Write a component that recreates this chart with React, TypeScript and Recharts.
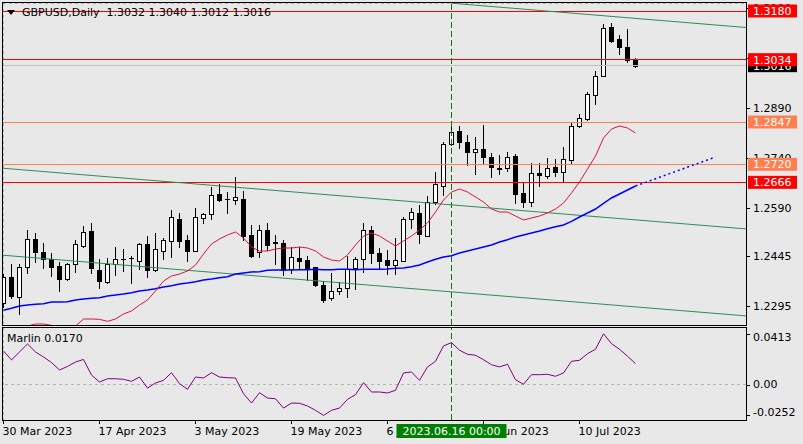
import React from 'react'
import { ComposedChart, Bar, Line, XAxis, YAxis, CartesianGrid, ReferenceLine } from 'recharts'

const FONT = '"DejaVu Sans", Verdana, sans-serif'
const BG = '#e8e8e8'
const GRID = '#b4b4b4'

// GBPUSD daily bars, bar 0 = 30 Mar 2023, bar 79 = 19 Jul 2023
const opens = [
  1.2305, 1.2381, 1.2323, 1.2411, 1.2495, 1.2457, 1.2435, 1.2415, 1.2377, 1.2420,
  1.2476, 1.2520, 1.2403, 1.2368, 1.2420, 1.2436, 1.2438, 1.2431, 1.2481, 1.2403,
  1.2461, 1.2491, 1.2556, 1.2493, 1.2461, 1.2558, 1.2571, 1.2631, 1.2615, 1.2613,
  1.2615, 1.2508, 1.2456, 1.2523, 1.2485, 1.2485, 1.2405, 1.2439, 1.2433, 1.2411,
  1.2358, 1.2318, 1.2341, 1.2348, 1.2408, 1.2435, 1.2523, 1.2453, 1.2433, 1.2418,
  1.2431, 1.2555, 1.2573, 1.2506, 1.2608, 1.2655, 1.2780, 1.2820, 1.2786, 1.2758,
  1.2765, 1.2741, 1.2708, 1.2708, 1.2745, 1.2633, 1.2608, 1.2695, 1.2686, 1.2711,
  1.2698, 1.2733, 1.2835, 1.2855, 1.2928, 1.2985, 1.3132, 1.3096, 1.3071, 1.3032,
]
const highs = [
  1.2391, 1.2420, 1.2420, 1.2523, 1.2515, 1.2485, 1.2453, 1.2428, 1.2423, 1.2493,
  1.2535, 1.2545, 1.2435, 1.2438, 1.2471, 1.2465, 1.2445, 1.2485, 1.2506, 1.2513,
  1.2498, 1.2583, 1.2575, 1.2508, 1.2588, 1.2575, 1.2651, 1.2661, 1.2638, 1.2681,
  1.2641, 1.2538, 1.2538, 1.2545, 1.2508, 1.2493, 1.2471, 1.2471, 1.2445, 1.2413,
  1.2371, 1.2393, 1.2368, 1.2445, 1.2443, 1.2543, 1.2535, 1.2468, 1.2463, 1.2500,
  1.2561, 1.2588, 1.2598, 1.2625, 1.2698, 1.2786, 1.2848, 1.2835, 1.2808, 1.2801,
  1.2838, 1.2753, 1.2748, 1.2758, 1.2751, 1.2663, 1.2725, 1.2725, 1.2738, 1.2735,
  1.2773, 1.2848, 1.2870, 1.2938, 1.3000, 1.3140, 1.3143, 1.3108, 1.3126, 1.3040,
]
const lows = [
  1.2292, 1.2320, 1.2271, 1.2393, 1.2428, 1.2410, 1.2385, 1.2341, 1.2373, 1.2396,
  1.2473, 1.2395, 1.2350, 1.2365, 1.2388, 1.2401, 1.2365, 1.2406, 1.2383, 1.2401,
  1.2435, 1.2443, 1.2473, 1.2431, 1.2461, 1.2545, 1.2556, 1.2611, 1.2575, 1.2601,
  1.2493, 1.2441, 1.2441, 1.2463, 1.2420, 1.2388, 1.2393, 1.2405, 1.2373, 1.2355,
  1.2306, 1.2313, 1.2331, 1.2323, 1.2345, 1.2398, 1.2423, 1.2405, 1.2391, 1.2391,
  1.2431, 1.2528, 1.2485, 1.2505, 1.2600, 1.2628, 1.2778, 1.2768, 1.2718, 1.2690,
  1.2725, 1.2683, 1.2691, 1.2701, 1.2603, 1.2591, 1.2595, 1.2656, 1.2680, 1.2686,
  1.2671, 1.2725, 1.2833, 1.2853, 1.2901, 1.2985, 1.3086, 1.3050, 1.3028, 1.3012,
]
const closes = [
  1.2381, 1.2325, 1.2411, 1.2495, 1.2456, 1.2435, 1.2413, 1.2377, 1.2420, 1.2480,
  1.2516, 1.2410, 1.2371, 1.2420, 1.2435, 1.2437, 1.2440, 1.2481, 1.2403, 1.2465,
  1.2493, 1.2561, 1.2491, 1.2461, 1.2561, 1.2571, 1.2628, 1.2613, 1.2616, 1.2621,
  1.2506, 1.2445, 1.2523, 1.2478, 1.2486, 1.2403, 1.2441, 1.2431, 1.2405, 1.2358,
  1.2313, 1.2341, 1.2348, 1.2405, 1.2435, 1.2523, 1.2453, 1.2431, 1.2418, 1.2433,
  1.2556, 1.2576, 1.2511, 1.2608, 1.2661, 1.2781, 1.2818, 1.2788, 1.2758, 1.2765,
  1.2743, 1.2711, 1.2707, 1.2743, 1.2630, 1.2608, 1.2693, 1.2687, 1.2708, 1.2698,
  1.2735, 1.2835, 1.2858, 1.2930, 1.2985, 1.3130, 1.3090, 1.3071, 1.3033, 1.3016,
]

// red (fast) and blue (slow) moving averages
const maFast = [
  1.2223, 1.2229, 1.2232, 1.2235, 1.2241, 1.2241, 1.2237, 1.2232, 1.2229, 1.2235,
  1.2256, 1.2256, 1.2255, 1.2249, 1.2256, 1.2271, 1.2280, 1.2298, 1.2313, 1.2340,
  1.2370, 1.2385, 1.2391, 1.2400, 1.2418, 1.2451, 1.2481, 1.2496, 1.2508, 1.2517,
  1.2499, 1.2472, 1.2460, 1.2460, 1.2466, 1.2469, 1.2469, 1.2472, 1.2469, 1.2460,
  1.2442, 1.2433, 1.2430, 1.2448, 1.2478, 1.2505, 1.2514, 1.2505, 1.2490, 1.2475,
  1.2490, 1.2505, 1.2523, 1.2544, 1.2577, 1.2613, 1.2637, 1.2646, 1.2637, 1.2622,
  1.2607, 1.2586, 1.2577, 1.2577, 1.2565, 1.2553, 1.2559, 1.2565, 1.2574, 1.2586,
  1.2604, 1.2634, 1.2667, 1.2706, 1.2745, 1.2799, 1.2826, 1.2835, 1.2829, 1.2814,
]
const maSlow = [
  1.2282, 1.2288, 1.2295, 1.2298, 1.2300, 1.2302, 1.2307, 1.2307, 1.2308, 1.2313,
  1.2316, 1.2318, 1.2320, 1.2325, 1.2328, 1.2331, 1.2335, 1.2340, 1.2343, 1.2347,
  1.2352, 1.2356, 1.2361, 1.2364, 1.2368, 1.2373, 1.2376, 1.2380, 1.2383, 1.2391,
  1.2394, 1.2397, 1.2398, 1.2402, 1.2403, 1.2403, 1.2403, 1.2404, 1.2404, 1.2405,
  1.2404, 1.2404, 1.2405, 1.2405, 1.2404, 1.2405, 1.2405, 1.2405, 1.2406, 1.2408,
  1.2409, 1.2413, 1.2418, 1.2427, 1.2435, 1.2442, 1.2446, 1.2454, 1.2460, 1.2466,
  1.2472, 1.2478, 1.2487, 1.2494, 1.2502, 1.2508, 1.2514, 1.2520, 1.2527, 1.2533,
  1.2538, 1.2549, 1.2562, 1.2574, 1.2586, 1.2603, 1.2619, 1.2631, 1.2643, 1.2655,
]
const slowProjection = [
  { bar: 79, v: 1.2655 },
  { bar: 89, v: 1.2742 },
]

const marlin = [
  0.0273, 0.0200, 0.0265, 0.0330, 0.0265, 0.0224, 0.0179, 0.0118, 0.0147, 0.0183,
  0.0204, 0.0077, 0.0020, 0.0047, 0.0047, 0.0042, 0.0026, 0.0061, -0.0029, 0.0012,
  0.0034, 0.0096, 0.0007, -0.0039, 0.0061, 0.0053, 0.0096, 0.0061, 0.0055, 0.0053,
  -0.0075, -0.0151, -0.0067, -0.0110, -0.0116, -0.0192, -0.0151, -0.0153, -0.0175, -0.0210,
  -0.0252, -0.0210, -0.0192, -0.0121, -0.0083, 0.0015, -0.0061, -0.0061, -0.0069, -0.0047,
  0.0094, 0.0102, 0.0034, 0.0143, 0.0189, 0.0314, 0.0341, 0.0279, 0.0246, 0.0238,
  0.0202, 0.0161, 0.0143, 0.0165, 0.0039, 0.0002, 0.0080, 0.0080, 0.0083, 0.0067,
  0.0094, 0.0189, 0.0197, 0.0251, 0.0287, 0.0413, 0.0333, 0.0287, 0.0230, 0.0170,
]

// channel lines, [bar, price] end points
const channelLines = [
  [[56, 1.32034], [92.8125, 1.31305]],
  [[-0.0625, 1.27083], [92.8125, 1.25263]],
  [[-0.0625, 1.24473], [92.8125, 1.22653]],
]

const redLevels = [1.3180, 1.3034, 1.2666]
const coralLevels = [1.2847, 1.2720]
const bid = 1.3016
const markedBar = 56

const priceTicks = [1.2295, 1.2445, 1.2590, 1.2740, 1.2890, 1.3040, 1.3190]
const marlinTicks = [0.0413, 0, -0.0252]
const gridBars = [0, 6, 12, 18, 24, 30, 36, 42, 48, 54, 60, 66, 72, 78, 84, 90]
const labelBars = [0, 12, 24, 36, 48, 60, 72]
const labelTexts = ['30 Mar 2023', '17 Apr 2023', '3 May 2023', '19 May 2023', '6 Jun 2023', '22 Jun 2023', '10 Jul 2023']

const bars = opens.map((o, i) => ({
  bar: i, open: o, high: highs[i], low: lows[i], close: closes[i], fast: maFast[i], slow: maSlow[i],
}))
const marlinRows = marlin.map((v, i) => ({ bar: i, v }))

const X_DOMAIN: [number, number] = [-0.0625, 92.8125]

function Candle(props: any) {
  const { x, y, width, height, payload } = props
  const { open, close, high, low } = payload
  const c = Math.floor(x + width / 2) + 0.5
  const toY = (v: number) => y + ((high - v) / (high - low)) * height
  const top = Math.round(toY(Math.max(open, close))) + 0.5
  const bot = Math.round(toY(Math.min(open, close))) + 0.5
  const up = close >= open
  return (
    <g shapeRendering="crispEdges">
      <line x1={c} x2={c} y1={Math.round(y)} y2={Math.round(y + height) + 1} stroke="#000" />
      {bot - top < 1 ? (
        <line x1={c - 2.5} x2={c + 2.5} y1={top} y2={top} stroke="#000" />
      ) : (
        <rect x={c - 2} y={top} width={4} height={bot - top} fill={up ? '#fff' : '#000'} stroke="#000" />
      )}
    </g>
  )
}

// coloured price box on the right scale
const priceTag = (fill: string, text: string) => (props: any) => {
  const { viewBox } = props
  const right = viewBox.x + viewBox.width
  const cy = viewBox.y
  return (
    <g>
      <rect x={right + 2} y={cy - 6.5} width={49} height={13} fill={fill} />
      <text x={right + 7} y={cy} dy="0.36em" fill="#fff" fontSize={11} fontFamily={FONT}>{text}</text>
    </g>
  )
}

// plain scale label (tick mark + text)
const scaleLabel = (text: string, shift = 0) => (props: any) => {
  const { viewBox } = props
  const right = viewBox.x + viewBox.width
  const cy = viewBox.y
  return (
    <g>
      <line x1={right + 1} x2={right + 4} y1={Math.round(cy) + 0.5} y2={Math.round(cy) + 0.5} stroke="#000" />
      <text x={right + 7} y={cy + shift} dy="0.36em" fontSize={11} fontFamily={FONT} fill="#000">{text}</text>
    </g>
  )
}

const dateLabel = (text: string) => (props: any) => {
  const { viewBox } = props
  const x = viewBox.x
  const bottom = viewBox.y + viewBox.height
  return (
    <g>
      <line x1={Math.floor(x) + 0.5} x2={Math.floor(x) + 0.5} y1={bottom + 1} y2={bottom + 4} stroke="#000" />
      <text x={x - 1} y={bottom + 6} dy="0.78em" fontSize={11} fontFamily={FONT} fill="#000">{text}</text>
    </g>
  )
}

function DateBox(props: any) {
  const { viewBox } = props
  const cx = viewBox.x
  const top = viewBox.y + viewBox.height + 4
  return (
    <g>
      <rect x={cx - 55} y={top} width={110} height={14} fill="#008000" />
      <text x={cx} y={top + 7} dy="0.36em" textAnchor="middle" fill="#fff" fontSize={11} fontFamily={FONT}>
        2023.06.16 00:00
      </text>
    </g>
  )
}

const marlinText = (v: number) => (v === 0 ? '0.00' : v.toFixed(4))

export default function App() {
  return (
    <div style={{ position: 'absolute', left: 0, top: 0, width: 803, height: 444, background: BG, overflow: 'hidden', fontFamily: FONT }}>
      <div style={{ position: 'absolute', left: 0, top: 0 }}>
        <ComposedChart width={803} height={327} data={bars} margin={{ top: 3, right: 0, left: 3, bottom: 2 }}>
          <CartesianGrid stroke={GRID} strokeDasharray="3 3" shapeRendering="crispEdges" />
          <XAxis type="number" dataKey="bar" domain={X_DOMAIN} ticks={gridBars} interval={0} allowDataOverflow
            height={0} tick={false} axisLine={false} tickLine={false} />
          <YAxis type="number" orientation="right" width={57} domain={[1.2238, 1.3204]} ticks={priceTicks} interval={0}
            allowDataOverflow axisLine={false} tickLine={false} tick={false} />
          {priceTicks.map((p) => (
            <ReferenceLine key={'t' + p} y={p} stroke="none" label={scaleLabel(p.toFixed(4))} />
          ))}
          <ReferenceLine y={bid} stroke="#c0c0c0" shapeRendering="crispEdges" label={priceTag('#000', bid.toFixed(4))} />
          {coralLevels.map((p) => (
            <ReferenceLine key={p} y={p} stroke="#ff7f50" shapeRendering="crispEdges" label={priceTag('#ff7f50', p.toFixed(4))} />
          ))}
          {redLevels.map((p) => (
            <ReferenceLine key={p} y={p} stroke="#ff0000" shapeRendering="crispEdges" label={priceTag('#ff0000', p.toFixed(4))} />
          ))}
          <Bar dataKey={(d: any) => [d.low, d.high]} barSize={5} isAnimationActive={false} shape={(p: any) => <Candle {...p} />} />
          {channelLines.map((seg, i) => (
            <ReferenceLine key={i} segment={[{ x: seg[0][0], y: seg[0][1] }, { x: seg[1][0], y: seg[1][1] }]}
              stroke="#2e8b57" ifOverflow="hidden" />
          ))}
          <ReferenceLine x={markedBar} stroke="#008000" strokeDasharray="6 3" shapeRendering="crispEdges" />
          <Line dataKey="slow" stroke="#0000ff" strokeWidth={1.5} dot={false} isAnimationActive={false} />
          <Line data={slowProjection} dataKey="v" stroke="#0000ff" strokeWidth={1.5} strokeDasharray="2 3" dot={false} isAnimationActive={false} />
          <Line dataKey="fast" stroke="#dc143c" strokeWidth={1} dot={false} isAnimationActive={false} />
        </ComposedChart>
      </div>

      <div style={{ position: 'absolute', left: 0, top: 327 }}>
        <ComposedChart width={803} height={117} data={marlinRows} margin={{ top: 1, right: 0, left: 3, bottom: 0 }}>
          <CartesianGrid stroke={GRID} strokeDasharray="3 3" horizontal={false} shapeRendering="crispEdges" />
          <XAxis type="number" dataKey="bar" domain={X_DOMAIN} ticks={gridBars} interval={0} allowDataOverflow
            height={24} axisLine={false} tickLine={false} tick={false} />
          <YAxis type="number" orientation="right" width={57} domain={[-0.0289, 0.0460]} ticks={marlinTicks} interval={0}
            allowDataOverflow axisLine={false} tickLine={false} tick={false} />
          <ReferenceLine y={0} stroke={GRID} strokeDasharray="3 3" shapeRendering="crispEdges" />
          {marlinTicks.map((v) => (
            <ReferenceLine key={'m' + v} y={v} stroke="none"
              label={scaleLabel(marlinText(v), v > 0.03 ? 3 : v < -0.02 ? -3 : 0)} />
          ))}
          {labelBars.map((b, k) => (
            <ReferenceLine key={'d' + b} x={b} stroke="none" label={dateLabel(labelTexts[k])} />
          ))}
          <Line dataKey="v" stroke="#800080" strokeWidth={1} dot={false} isAnimationActive={false} />
          <ReferenceLine x={markedBar} stroke="#008000" strokeDasharray="6 3" shapeRendering="crispEdges"
            label={(p: any) => <DateBox {...p} />} />
        </ComposedChart>
      </div>

      {/* panel frames */}
      <div style={{ position: 'absolute', left: 2, top: 2, width: 745, height: 324, border: '1px solid #000', boxSizing: 'border-box', pointerEvents: 'none' }} />
      <div style={{ position: 'absolute', left: 2, top: 327, width: 745, height: 94, border: '1px solid #000', boxSizing: 'border-box', pointerEvents: 'none' }} />

      <div style={{ position: 'absolute', left: 7, top: 10, width: 0, height: 0, borderLeft: '4px solid transparent', borderRight: '4px solid transparent', borderTop: '5px solid #000' }} />
      <div style={{ position: 'absolute', left: 22, top: 6, fontSize: 11, lineHeight: '13px', color: '#000', whiteSpace: 'pre' }}>
        GBPUSD,Daily  1.3032 1.3040 1.3012 1.3016
      </div>
      <div style={{ position: 'absolute', left: 7, top: 332, fontSize: 11, lineHeight: '13px', color: '#000', whiteSpace: 'pre' }}>
        Marlin 0.0170
      </div>
    </div>
  )
}
